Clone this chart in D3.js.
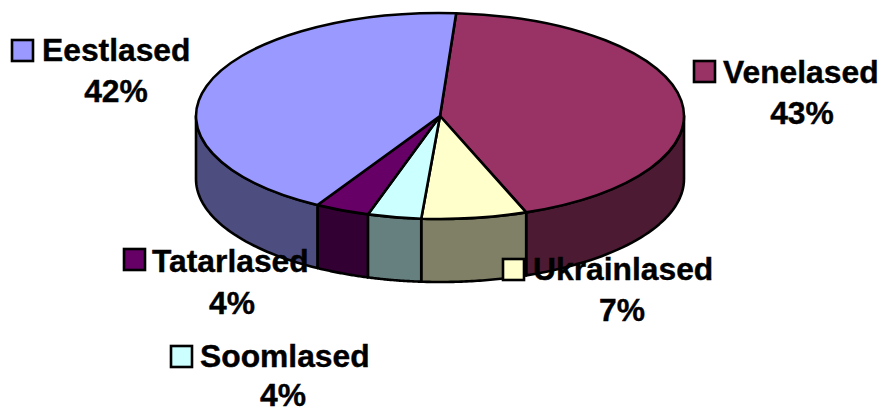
<!DOCTYPE html>
<html><head><meta charset="utf-8">
<script src="https://cdn.jsdelivr.net/npm/d3@7"></script>
<style>html,body{margin:0;background:#fff}svg{display:block}
text{font-family:"Liberation Sans",Arial,sans-serif;font-weight:700;font-size:31.8px;fill:#000;stroke:#000;stroke-width:.4px}</style>
</head><body><svg id="c" width="885" height="408"></svg>
<script>
const categories=["Venelased","Ukrainlased","Soomlased","Tatarlased","Eestlased"];
const values=[43.2,6.97,3.55,3.6,42.68];
const percentLabels=["43%","7%","4%","4%","42%"];
const topColors=["#993366","#ffffcc","#ccffff","#660066","#9999ff"];
const sideColors=["#4d1a33","#808066","#668080","#330033","#4d4d80"];
const labelX=[723,533,200,152,42];
const labelY=[83,280,367,272,61];
const pctX=[802,622,283,232,116];
const pctY=[124,321,406,314,102];
const keyX=[694,503,171,124,12];
const keyY=[61,259,346,249,40];

const cx=440,cy=116,rx=244,ry=103,depth=63,startDeg=3.8;
const svg=d3.select("#c");
const rad=d=>d*Math.PI/180;
const pie=d3.pie().sort(null).startAngle(rad(startDeg)).endAngle(rad(startDeg+360));
const arcs=pie(values).map((a,i)=>({...a,i}));

const px=a=>cx+rx*Math.sin(a), py=(a,dy=0)=>cy-ry*Math.cos(a)+dy;

// side walls (only the front half of the rim is visible)
const side=svg.append("g");
const wall=(a0,a1)=>{
  const n=40, as=d3.range(n+1).map(k=>a0+(a1-a0)*k/n);
  const line=d3.line().x(a=>px(a[0])).y(a=>py(a[0],a[1]));
  return line([...as.map(a=>[a,0]),...as.slice().reverse().map(a=>[a,depth])])+"Z";
};
arcs.forEach(d=>{
  const a0=Math.max(d.startAngle,Math.PI/2), a1=Math.min(d.endAngle,3*Math.PI/2);
  if(a1>a0) side.append("path").attr("d",wall(a0,a1))
    .attr("fill",sideColors[d.i]).attr("stroke","#000").attr("stroke-width",2.6).attr("stroke-linejoin","round");
});

// top face
const arc=d3.arc().innerRadius(0).outerRadius(rx);
svg.append("g").attr("transform",`translate(${cx},${cy}) scale(1,${ry/rx})`)
  .selectAll("path").data(arcs).join("path")
  .attr("d",arc).attr("fill",d=>topColors[d.i])
  .attr("stroke","#000").attr("stroke-width",2.6).attr("stroke-linejoin","round")
  .attr("vector-effect","non-scaling-stroke");

// labels
const lab=svg.append("g");
categories.forEach((c,i)=>{
  lab.append("rect").attr("x",keyX[i]).attr("y",keyY[i]).attr("width",21).attr("height",21)
    .attr("fill",topColors[i]).attr("stroke","#000").attr("stroke-width",2.6);
  lab.append("text").attr("x",labelX[i]).attr("y",labelY[i]).text(c);
  lab.append("text").attr("x",pctX[i]).attr("y",pctY[i]).attr("text-anchor","middle").text(percentLabels[i]);
});
</script></body></html>
